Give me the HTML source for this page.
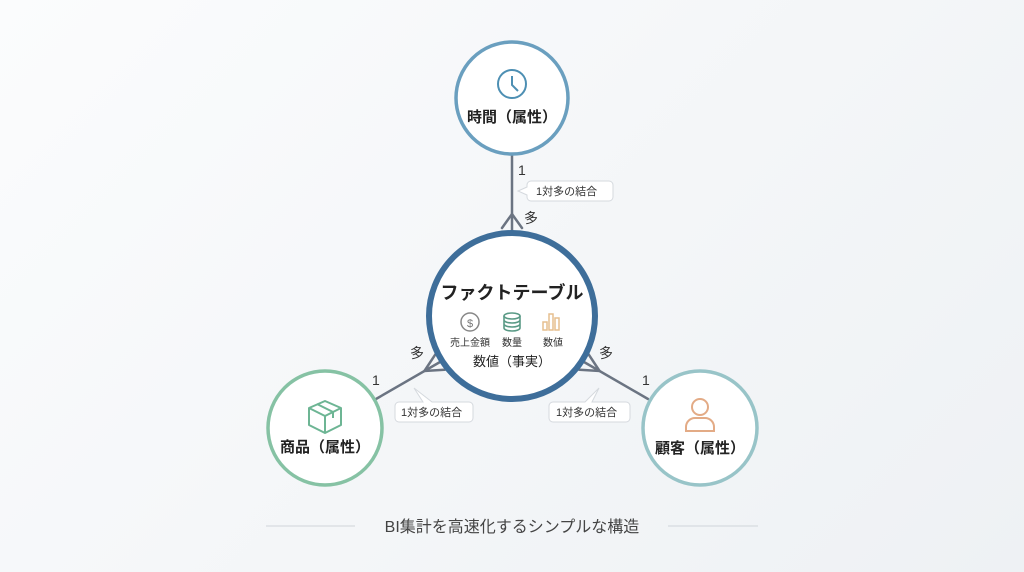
<!DOCTYPE html>
<html><head><meta charset="utf-8"><style>
html,body{margin:0;padding:0;width:1024px;height:572px;overflow:hidden;background:linear-gradient(135deg,#fbfcfd,#eef1f4);}
svg{display:block}
text{font-family:"Liberation Sans","Noto Sans CJK JP",sans-serif;}
</style></head><body>
<svg width="1024" height="572" viewBox="0 0 1024 572" xmlns="http://www.w3.org/2000/svg">
<g stroke="#6b7482" stroke-width="2.5" fill="none" stroke-linecap="round">
<line x1="512" y1="155" x2="512" y2="234"/>
<polyline points="502,228 512,214 522,228"/>
<line x1="376" y1="399" x2="440" y2="362"/>
<polyline points="435.5,354.2 424.4,371 444.5,369.8"/>
<line x1="648" y1="399" x2="584" y2="362"/>
<polyline points="588.5,354.2 599.6,371 579.5,369.8"/>
</g>
<g font-size="14" fill="#333">
<text x="518" y="175">1</text>
<text x="524" y="223">多</text>
<text x="372" y="385">1</text>
<text x="410" y="358">多</text>
<text x="642" y="385">1</text>
<text x="599" y="358">多</text>
</g>
<g font-size="11" fill="#333">
<path d="M531,181 h78 a4,4 0 0 1 4,4 v12 a4,4 0 0 1 -4,4 h-78 a4,4 0 0 1 -4,-4 v-2 l-9,-4 l9,-4 v-2 a4,4 0 0 1 4,-4z" fill="#fff" stroke="#d5d9de"/>
<text x="536" y="195">1対多の結合</text>
<path d="M399,402 h24 l-9,-14 l18,14 h37 a4,4 0 0 1 4,4 v12 a4,4 0 0 1 -4,4 h-70 a4,4 0 0 1 -4,-4 v-12 a4,4 0 0 1 4,-4z" fill="#fff" stroke="#d5d9de"/>
<text x="401" y="416">1対多の結合</text>
<path d="M553,402 h32 l14,-14 l-7,14 h34 a4,4 0 0 1 4,4 v12 a4,4 0 0 1 -4,4 h-73 a4,4 0 0 1 -4,-4 v-12 a4,4 0 0 1 4,-4z" fill="#fff" stroke="#d5d9de"/>
<text x="556" y="416">1対多の結合</text>
</g>
<circle cx="512" cy="98" r="56" fill="#fff" stroke="#6a9fbf" stroke-width="3.5"/>
<circle cx="512" cy="84" r="14" fill="none" stroke="#4d8fb3" stroke-width="2"/>
<polyline points="512,76 512,85 518,91" fill="none" stroke="#4d8fb3" stroke-width="2"/>
<text x="512" y="122" text-anchor="middle" font-size="15" font-weight="bold" fill="#222">時間（属性）</text>
<circle cx="325" cy="428" r="57" fill="#fff" stroke="#86c2a4" stroke-width="3.5"/>
<g fill="none" stroke="#6db594" stroke-width="2" stroke-linejoin="round">
<path d="M325,401 l16,7 v17 l-16,8 l-16,-8 v-17z"/>
<path d="M309,408 l16,8 l16,-8 M325,416 v17 M317,404 l16,8 v6"/>
</g>
<text x="325" y="452" text-anchor="middle" font-size="15" font-weight="bold" fill="#222">商品（属性）</text>
<circle cx="700" cy="428" r="57" fill="#fff" stroke="#98c4c8" stroke-width="3.5"/>
<g fill="none" stroke="#e3ab86" stroke-width="2">
<circle cx="700" cy="407" r="8"/>
<path d="M686,431 v-4 a9,9 0 0 1 9,-9 h10 a9,9 0 0 1 9,9 v4 z"/>
</g>
<text x="700" y="453" text-anchor="middle" font-size="15" font-weight="bold" fill="#222">顧客（属性）</text>
<circle cx="512" cy="316" r="83" fill="#fff" stroke="#3e6e9a" stroke-width="6"/>
<text x="512" y="299" text-anchor="middle" font-size="18" font-weight="bold" fill="#222">ファクトテーブル</text>
<circle cx="470" cy="322" r="9" fill="none" stroke="#888" stroke-width="1.5"/>
<text x="470" y="327" text-anchor="middle" font-size="11" fill="#777">$</text>
<g fill="none" stroke="#5a9a86" stroke-width="1.6">
<ellipse cx="512" cy="316" rx="8" ry="3"/>
<path d="M504,316 v12 a8,3 0 0 0 16,0 v-12 M504,320 a8,3 0 0 0 16,0 M504,324 a8,3 0 0 0 16,0"/>
</g>
<g fill="none" stroke="#e6bf8f" stroke-width="1.5">
<rect x="543" y="322" width="4" height="8"/><rect x="549" y="314" width="4" height="16"/><rect x="555" y="318" width="4" height="12"/>
</g>
<g font-size="10" fill="#333" text-anchor="middle">
<text x="470" y="346">売上金額</text>
<text x="512" y="346">数量</text>
<text x="553" y="346">数値</text>
</g>
<text x="512" y="366" text-anchor="middle" font-size="13" fill="#222">数値（事実）</text>
<line x1="266" y1="526" x2="355" y2="526" stroke="#cfd4d9"/>
<line x1="668" y1="526" x2="758" y2="526" stroke="#cfd4d9"/>
<text x="512" y="532" text-anchor="middle" font-size="16" fill="#444">BI集計を高速化するシンプルな構造</text>
</svg>
</body></html>
